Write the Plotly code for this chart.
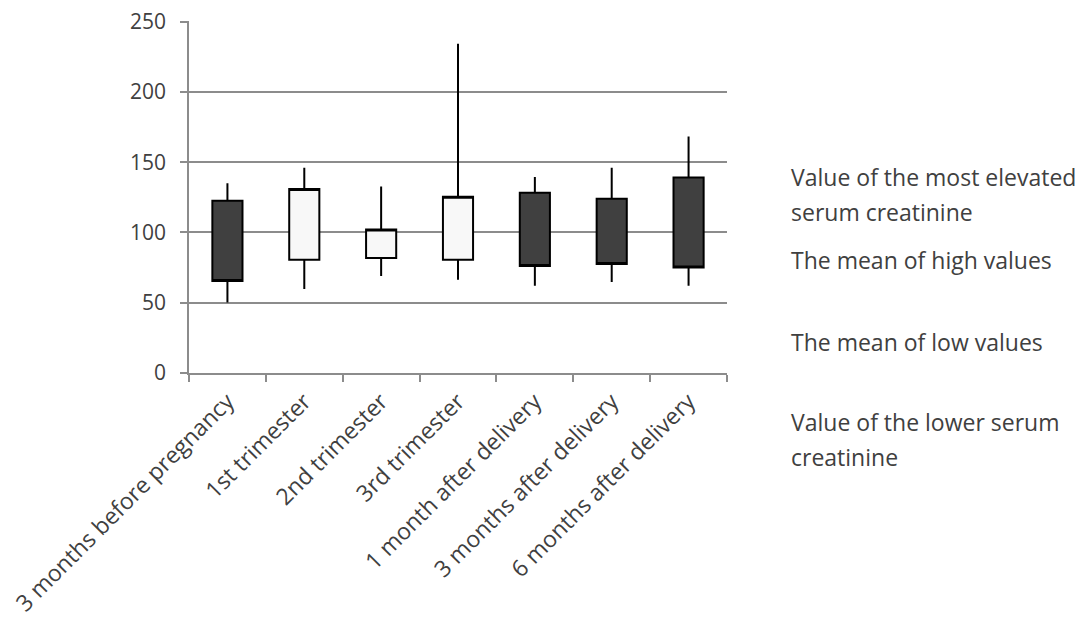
import plotly.graph_objects as go

categories = ["3 months before pregnancy", "1st trimester", "2nd trimester", "3rd trimester",
              "1 month after delivery", "3 months after delivery", "6 months after delivery"]
open_vals = [122.6, 80.6, 81.8, 80.6, 128.3, 124.0, 139.2]
high_vals = [135.1, 146.1, 132.8, 234.3, 139.4, 146.1, 168.3]
low_vals = [50.1, 59.7, 69.0, 66.4, 62.1, 64.7, 62.1]
close_vals = [65.4, 130.9, 102.2, 125.5, 76.1, 77.5, 75.0]
y_ticks = [0, 50, 100, 150, 200, 250]

side_texts = ["Value of the most elevated", "serum creatinine", "The mean of high values",
              "The mean of low values", "Value of the lower serum", "creatinine"]
side_y_px = [177, 212, 260, 342, 422, 457]

FONT = "'Open Sans', Lato, sans-serif"
TXT = "#404040"
GRID = "#8c8c8c"

fig = go.Figure(go.Candlestick(
    x=categories, open=open_vals, high=high_vals, low=low_vals, close=close_vals,
    increasing=dict(fillcolor="#f8f8f8", line=dict(color="#000000", width=2)),
    decreasing=dict(fillcolor="#404040", line=dict(color="#000000", width=2)),
    whiskerwidth=0, showlegend=False, hoverinfo="x+y",
))

OFF = 8  # page body margin
L, R, T, B = 189 - OFF, 727 - OFF, 21 - OFF, 373 - OFF
W, H = 1091, 622

annotations = []
for txt, py in zip(side_texts, side_y_px):
    annotations.append(dict(
        text=txt, xref="paper", yref="paper",
        x=(789 - 189) / (727 - 189), y=(373 - py) / (373 - 21),
        xanchor="left", yanchor="middle", showarrow=False,
        font=dict(family=FONT, size=23, color=TXT),
    ))

fig.update_layout(
    width=W, height=H,
    margin=dict(l=L, r=W - R, t=T, b=H - B, pad=0, autoexpand=False),
    paper_bgcolor="white", plot_bgcolor="white",
    boxgap=0.44,
    font=dict(family=FONT, size=22, color=TXT),
    annotations=annotations,
    xaxis=dict(
        type="category", range=[-0.5, 6.5], rangeslider=dict(visible=False),
        showgrid=False, showline=True, linecolor=GRID, linewidth=1.5,
        ticks="outside", tickson="boundaries", ticklen=7, tickcolor=GRID, tickwidth=1.5,
        tickangle=-45, tickfont=dict(family=FONT, size=23, color=TXT), ticklabelstandoff=4,
        automargin=False, fixedrange=True,
    ),
    yaxis=dict(
        range=[0, 250.5], tickmode="array", tickvals=y_ticks, ticktext=[str(v) for v in y_ticks],
        showgrid=True, gridcolor=GRID, gridwidth=1.5,
        showline=True, linecolor=GRID, linewidth=1.5, zeroline=False,
        ticks="outside", ticklen=7, tickcolor=GRID, tickwidth=1.5,
        tickfont=dict(family=FONT, size=21, color=TXT), ticklabeloverflow="allow",
        ticklabelstandoff=10, automargin=False, fixedrange=True,
    ),
)

fig.write_html("out.html")
